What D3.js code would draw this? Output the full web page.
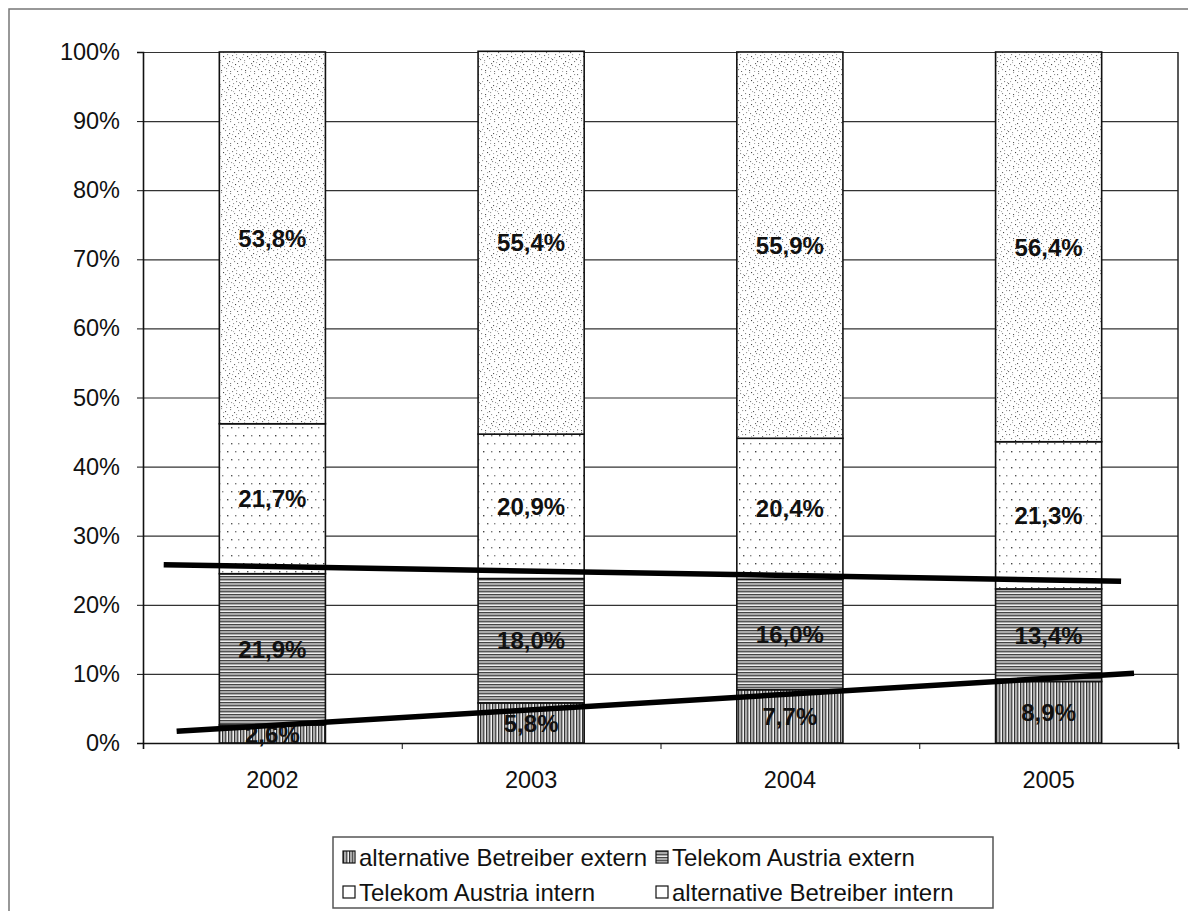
<!DOCTYPE html>
<html>
<head>
<meta charset="utf-8">
<script src="https://cdn.jsdelivr.net/npm/d3@7"></script>
<style>
  html, body { margin: 0; padding: 0; background: #fff; }
  svg { display: block; font-family: "Liberation Sans", Arial, sans-serif; }
</style>
</head>
<body>
<svg id="chart" width="1188" height="911"></svg>
<script>
// Shares of the market per year (percent), stacked bottom to top
const years = ["2002", "2003", "2004", "2005"];
const altExtern = [2.6, 5.8, 7.7, 8.9];
const taExtern  = [21.9, 18.0, 16.0, 13.4];
const taIntern  = [21.7, 20.9, 20.4, 21.3];
const altIntern = [53.8, 55.4, 55.9, 56.4];

const seriesKeys = ["altExtern", "taExtern", "taIntern", "altIntern"];
const seriesNames = [
  "alternative Betreiber extern",
  "Telekom Austria extern",
  "Telekom Austria intern",
  "alternative Betreiber intern"
];
const yTicks = [0, 10, 20, 30, 40, 50, 60, 70, 80, 90, 100];

// Hand-drawn trend strokes: position in category units (0 = 2002) and percent
const trendUpper = [{ pos: -0.42, value: 25.8 }, { pos: 3.28, value: 23.4 }];
const trendLower = [{ pos: -0.37, value: 1.7 }, { pos: 3.33, value: 10.1 }];

const rows = years.map((y, i) => ({
  year: y,
  altExtern: altExtern[i],
  taExtern: taExtern[i],
  taIntern: taIntern[i],
  altIntern: altIntern[i]
}));

const svg = d3.select("#chart");
const plot = { left: 143, right: 1178, top: 52, bottom: 743 };

// ---- fill patterns ----
const defs = svg.append("defs");

// fine stipple for "alternative Betreiber intern"
const stipple = defs.append("pattern").attr("id", "pStipple")
  .attr("patternUnits", "userSpaceOnUse").attr("width", 24).attr("height", 24);
stipple.append("rect").attr("width", 24).attr("height", 24).attr("fill", "#fff");
const stippleDots = [
  [1,2,"#777"],[5,0,"#999"],[9,3,"#555"],[14,1,"#888"],[18,4,"#666"],[22,2,"#999"],
  [3,6,"#888"],[7,8,"#444"],[11,6,"#999"],[16,7,"#777"],[20,9,"#888"],[13,9,"#aaa"],
  [0,11,"#666"],[4,12,"#999"],[9,10,"#888"],[13,13,"#555"],[17,11,"#999"],[22,13,"#777"],
  [2,16,"#999"],[6,17,"#777"],[11,15,"#666"],[15,18,"#999"],[19,16,"#444"],[23,18,"#888"],
  [1,21,"#888"],[5,22,"#555"],[10,20,"#999"],[14,23,"#777"],[18,21,"#888"],[21,23,"#666"],
  [7,4,"#aaa"],[20,6,"#aaa"],[2,9,"#aaa"],[16,14,"#aaa"],[8,19,"#aaa"],[12,17,"#888"],
  [23,10,"#aaa"],[4,14,"#bbb"],[17,19,"#bbb"],[10,23,"#aaa"]
];
stipple.selectAll("rect.d").data(stippleDots).join("rect").attr("class", "d")
  .attr("x", d => d[0]).attr("y", d => d[1]).attr("width", 1.1).attr("height", 1.1)
  .attr("fill", d => d[2]);

// sparse dot grid for "Telekom Austria intern"
const dots = defs.append("pattern").attr("id", "pDots")
  .attr("patternUnits", "userSpaceOnUse").attr("width", 16).attr("height", 16);
dots.append("rect").attr("width", 16).attr("height", 16).attr("fill", "#fff");
[[3,3,"#444"],[11,3,"#777"],[7,11,"#555"],[14,11,"#888"]].forEach(d => {
  dots.append("rect").attr("x", d[0]).attr("y", d[1]).attr("width", 1.4).attr("height", 1.4).attr("fill", d[2]);
});

// horizontal hatching for "Telekom Austria extern"
const hLines = defs.append("pattern").attr("id", "pHoriz")
  .attr("patternUnits", "userSpaceOnUse").attr("width", 8).attr("height", 6);
hLines.append("rect").attr("width", 8).attr("height", 6).attr("fill", "#aaa");
hLines.append("rect").attr("y", 0).attr("width", 8).attr("height", 1).attr("fill", "#444");
hLines.append("rect").attr("y", 3).attr("width", 8).attr("height", 1).attr("fill", "#555");
hLines.append("rect").attr("y", 5).attr("width", 8).attr("height", 1).attr("fill", "#eee");

// vertical hatching for "alternative Betreiber extern"
const vLines = defs.append("pattern").attr("id", "pVert")
  .attr("patternUnits", "userSpaceOnUse").attr("width", 6).attr("height", 8);
vLines.append("rect").attr("width", 6).attr("height", 8).attr("fill", "#aaa");
vLines.append("rect").attr("x", 0).attr("width", 1).attr("height", 8).attr("fill", "#333");
vLines.append("rect").attr("x", 3).attr("width", 1).attr("height", 8).attr("fill", "#555");
vLines.append("rect").attr("x", 5).attr("width", 1).attr("height", 8).attr("fill", "#f2f2f2");

const fills = {
  altExtern: "url(#pVert)",
  taExtern: "url(#pHoriz)",
  taIntern: "url(#pDots)",
  altIntern: "url(#pStipple)"
};

// ---- outer frame ----
svg.append("rect").attr("x", 9).attr("y", 9).attr("width", 1200).attr("height", 920)
  .attr("fill", "none").attr("stroke", "#777").attr("stroke-width", 1.5);

// ---- scales ----
const x = d3.scaleBand().domain(years).range([plot.left, plot.right])
  .paddingInner(0.59).paddingOuter(0.295);
const y = d3.scaleLinear().domain([0, 100]).range([plot.bottom, plot.top]);
const centre = d3.scaleLinear().domain([0, years.length - 1])
  .range([x(years[0]) + x.bandwidth() / 2, x(years[years.length - 1]) + x.bandwidth() / 2]);
const boundary = d3.scaleLinear().domain([0, years.length]).range([plot.left, plot.right]);

// ---- gridlines ----
svg.append("g").attr("transform", `translate(${plot.left},0)`)
  .call(d3.axisLeft(y).tickValues(yTicks).tickSize(-(plot.right - plot.left)).tickFormat(""))
  .call(g => g.select(".domain").remove())
  .call(g => g.selectAll("line").attr("stroke", "#333").attr("stroke-width", 1.2));

// right border of the plot area
svg.append("line").attr("x1", plot.right).attr("x2", plot.right)
  .attr("y1", y(100)).attr("y2", y(0)).attr("stroke", "#222").attr("stroke-width", 1.5);

// ---- stacked bars ----
const stacked = d3.stack().keys(seriesKeys)(rows);
const layers = svg.append("g").selectAll("g").data(stacked).join("g")
  .attr("fill", d => fills[d.key]);
layers.selectAll("rect").data(d => d.map(p => ({ p, key: d.key }))).join("rect")
  .attr("x", d => x(d.p.data.year))
  .attr("width", x.bandwidth())
  .attr("y", d => y(d.p[1]))
  .attr("height", d => y(d.p[0]) - y(d.p[1]))
  .attr("stroke", "#111").attr("stroke-width", 1.6);

// ---- axes ----
svg.append("g").attr("transform", `translate(${plot.left},0)`)
  .call(d3.axisLeft(y).tickValues(yTicks).tickSize(6).tickPadding(17).tickFormat(d => d + "%"))
  .call(g => g.select(".domain").attr("stroke", "#111").attr("stroke-width", 1.6))
  .call(g => g.selectAll("line").attr("stroke", "#111"))
  .call(g => g.selectAll("text").attr("font-size", 23.5).attr("fill", "#111")
    .attr("font-family", "'Liberation Sans', Arial, sans-serif"));

svg.append("g").attr("transform", `translate(0,${plot.bottom})`)
  .call(d3.axisBottom(boundary).tickValues(d3.range(years.length + 1)).tickSize(6).tickFormat(""))
  .call(g => g.select(".domain").attr("stroke", "#111").attr("stroke-width", 1.6))
  .call(g => g.selectAll("line").attr("stroke", "#111"));

svg.append("g").attr("transform", `translate(0,${plot.bottom})`)
  .call(d3.axisBottom(x).tickSize(0).tickPadding(28))
  .call(g => g.select(".domain").remove())
  .call(g => g.selectAll("text").attr("font-size", 23.5).attr("fill", "#111")
    .attr("font-family", "'Liberation Sans', Arial, sans-serif"));

// ---- value labels ----
const fmt = v => v.toFixed(1).replace(".", ",") + "%";
layers.selectAll("text").data(d => d.map(p => ({ p, key: d.key }))).join("text")
  .attr("x", d => x(d.p.data.year) + x.bandwidth() / 2)
  .attr("y", d => y((d.p[0] + d.p[1]) / 2))
  .attr("dy", "0.36em")
  .attr("text-anchor", "middle")
  .attr("font-size", 24).attr("font-weight", "bold").attr("fill", "#111")
  .text(d => fmt(d.p.data[d.key]));

// ---- trend strokes ----
const trendLine = d3.line().x(d => centre(d.pos)).y(d => y(d.value));
[trendUpper, trendLower].forEach(t => {
  svg.append("path").attr("d", trendLine(t)).attr("fill", "none")
    .attr("stroke", "#000").attr("stroke-width", 5.5);
});

// ---- legend ----
const legend = svg.append("g").attr("transform", "translate(333,837)");
legend.append("rect").attr("width", 660).attr("height", 71)
  .attr("fill", "#fff").attr("stroke", "#555").attr("stroke-width", 1.5);
const legendPos = [[10, 20], [323, 20], [10, 55], [323, 55]];
const items = legend.selectAll("g.item").data(seriesKeys).join("g").attr("class", "item")
  .attr("transform", (d, i) => `translate(${legendPos[i][0]},${legendPos[i][1]})`);
items.append("rect").attr("x", 0).attr("y", -6).attr("width", 12).attr("height", 12)
  .attr("fill", d => d === "taIntern" || d === "altIntern" ? "#fff" : fills[d])
  .attr("stroke", "#111").attr("stroke-width", 1.2);
items.append("text").attr("x", 16).attr("dy", "0.36em")
  .attr("font-size", 24).attr("fill", "#111")
  .text((d, i) => seriesNames[i]);
</script>
</body>
</html>
